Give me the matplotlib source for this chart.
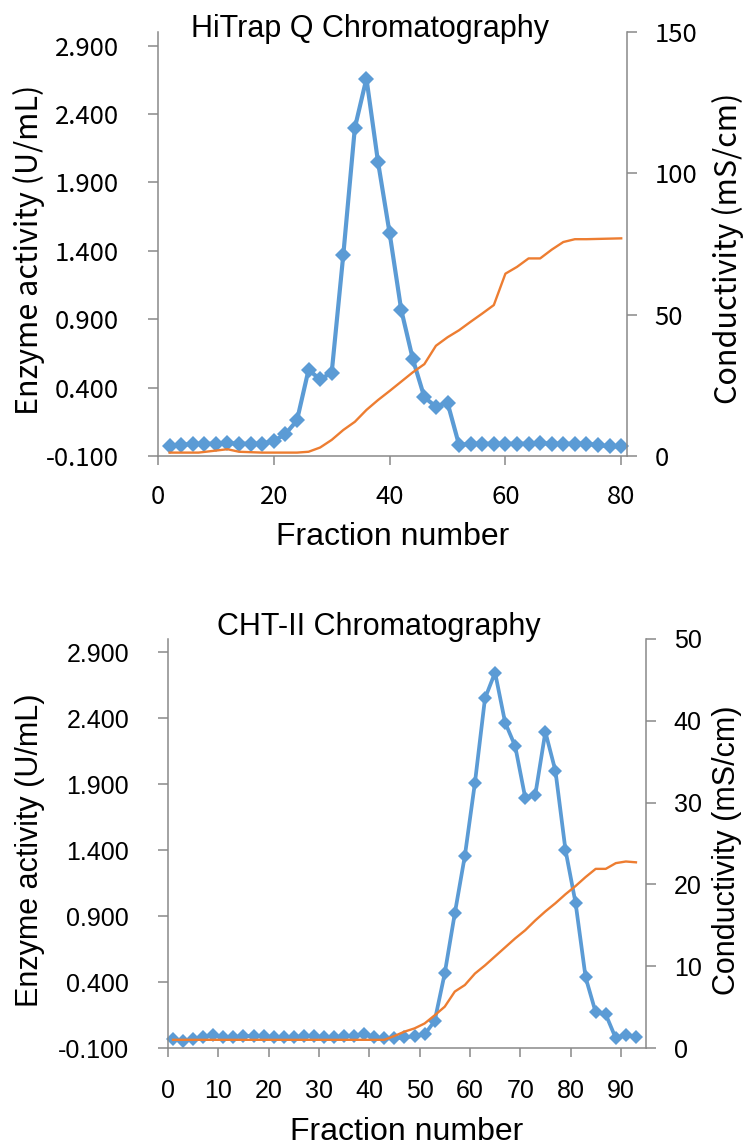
import numpy as np
import matplotlib.pyplot as plt
from matplotlib.ticker import FormatStrFormatter, MultipleLocator

plt.rcParams['font.family'] = ['Liberation Sans', 'DejaVu Sans']

# HiTrap Q chromatography
q_frac = np.arange(2, 82, 2)
q_act = [-0.03, -0.02, -0.01, -0.01, -0.01, -0.005, -0.01, -0.01, -0.01, 0.01,
         0.06, 0.16, 0.53, 0.46, 0.51, 1.37, 2.30, 2.66, 2.05, 1.53,
         0.97, 0.61, 0.33, 0.26, 0.29, -0.02, -0.01, -0.01, -0.01, -0.01,
         -0.01, -0.01, -0.005, -0.01, -0.01, -0.01, -0.01, -0.02, -0.03, -0.03]
q_cond_frac = [2, 7, 12, 14, 18, 24, 26, 28, 30, 32, 34, 36, 38, 40, 42, 44, 46,
               48, 50, 52, 54, 56, 58, 60, 62, 64, 66, 68, 70, 72, 74, 80]
q_cond = [1.2, 1.2, 2.4, 1.5, 1.2, 1.2, 1.5, 3.0, 5.7, 9.2, 12.1, 16.3, 19.8,
          23.0, 26.3, 29.6, 32.5, 39.0, 42.0, 44.5, 47.5, 50.4, 53.4, 64.5,
          66.9, 69.9, 69.9, 73.0, 75.7, 76.7, 76.7, 77.0]

# CHT-II chromatography
c_frac = np.arange(1, 95, 2)
c_act = [-0.03, -0.05, -0.03, -0.02, 0.0, -0.02, -0.02, -0.01, -0.01, -0.01,
         -0.02, -0.02, -0.02, -0.01, -0.01, -0.02, -0.02, -0.01, -0.01, 0.006,
         -0.02, -0.027, -0.027, -0.02, -0.01, 0.003, 0.105, 0.466, 0.92, 1.357,
         1.91, 2.55, 2.746, 2.367, 2.188, 1.796, 1.82, 2.296, 2.0, 1.4,
         1.0, 0.435, 0.17, 0.155, -0.027, 0.0, -0.02]
c_cond_frac = [1, 43, 45, 47, 49, 51, 53, 55, 57, 59, 61, 63, 65, 67, 69, 71,
               73, 75, 77, 79, 81, 83, 85, 87, 89, 91, 93]
c_cond = [1.0, 1.0, 1.47, 2.0, 2.4, 3.0, 4.0, 5.05, 6.9, 7.7, 9.1, 10.1, 11.2,
          12.3, 13.4, 14.4, 15.6, 16.7, 17.7, 18.8, 19.8, 20.9, 21.9, 21.9,
          22.6, 22.8, 22.7]

blue = '#5B9BD5'
orange = '#ED7D31'
gray = '#898989'
W, H = 749, 1147

fig = plt.figure(figsize=(W / 100, H / 100), dpi=100)


def make_axes(l, r, t, b):
    return fig.add_axes([l / W, 1 - b / H, (r - l) / W, (b - t) / H])


def style(ax, ax2, font, tsize, xpad, ypad, y2pad):
    for s in ['top', 'right']:
        ax.spines[s].set_visible(False)
    for s in ['top', 'left', 'bottom']:
        ax2.spines[s].set_visible(False)
    for s in [ax.spines['left'], ax.spines['bottom'], ax2.spines['right']]:
        s.set_color(gray)
        s.set_linewidth(1.1)
    ax.tick_params(axis='y', direction='out', length=7, width=1.1, color=gray,
                   pad=ypad, labelsize=tsize)
    ax.tick_params(axis='x', direction='out', length=6.3, width=1.1, color=gray,
                   pad=xpad, labelsize=tsize)
    ax2.tick_params(axis='y', direction='out', length=7, width=1.1, color=gray,
                    pad=y2pad, labelsize=tsize)
    for lab in ax.get_xticklabels() + ax.get_yticklabels() + ax2.get_yticklabels():
        lab.set_fontfamily(font)
    ax.yaxis.set_major_formatter(FormatStrFormatter('%.3f'))
    ax.set_ylim(-0.1, 3.0)
    ax.yaxis.set_major_locator(MultipleLocator(0.5))
    ax.set_yticks(np.arange(-0.1, 2.95, 0.5))


# ---- top panel
ax1 = make_axes(158, 627, 32, 456)
ax1b = ax1.twinx()
ax1.plot(q_frac, q_act, '-D', color=blue, lw=3.0, ms=8.5, mew=0, clip_on=False)
ax1b.plot(q_cond_frac, q_cond, '-', color=orange, lw=1.7)
ax1.set_xlim(0, 81)
ax1.set_xticks([0, 20, 40, 60, 80])
ax1b.set_ylim(0, 150)
ax1b.set_yticks([0, 50, 100, 150])
style(ax1, ax1b, ['Noto Sans CJK KR', 'DejaVu Sans'], 18.5, 14, 21, 13)

fig.text(370 / W, 1 - 37 / H, 'HiTrap Q Chromatography', ha='center',
         va='baseline', fontsize=22)
fig.text(393 / W, 1 - 545 / H, 'Fraction number', ha='center',
         va='baseline', fontsize=23)
fig.text(29 / W, 1 - 250 / H, 'Enzyme activity (U/mL)', rotation=90,
         ha='center', va='center', fontsize=22,
         family=['Noto Sans CJK KR', 'DejaVu Sans'])
fig.text(728 / W, 1 - 248 / H, 'Conductivity (mS/cm)', rotation=90,
         ha='center', va='center', fontsize=22,
         family=['Noto Sans CJK KR', 'DejaVu Sans'])

# ---- bottom panel
ax2 = make_axes(168, 646, 639, 1048)
ax2b = ax2.twinx()
ax2.plot(c_frac, c_act, '-D', color=blue, lw=2.7, ms=7.5, mew=0, clip_on=False)
ax2b.plot(c_cond_frac, c_cond, '-', color=orange, lw=1.7)
ax2.set_xlim(0, 95)
ax2.set_xticks(np.arange(0, 100, 10))
ax2b.set_ylim(0, 50)
ax2b.set_yticks(np.arange(0, 60, 10))
style(ax2, ax2b, ['Liberation Sans', 'DejaVu Sans'], 18, 16, 21, 13)

fig.text(379 / W, 1 - 635 / H, 'CHT-II Chromatography', ha='center',
         va='baseline', fontsize=22)
fig.text(407 / W, 1 - 1140 / H, 'Fraction number', ha='center',
         va='baseline', fontsize=23)
fig.text(30 / W, 1 - 850 / H, 'Enzyme activity (U/mL)', rotation=90,
         ha='center', va='center', fontsize=22)
fig.text(727 / W, 1 - 850 / H, 'Conductivity (mS/cm)', rotation=90,
         ha='center', va='center', fontsize=22)

fig.savefig('out.png', dpi=100)
